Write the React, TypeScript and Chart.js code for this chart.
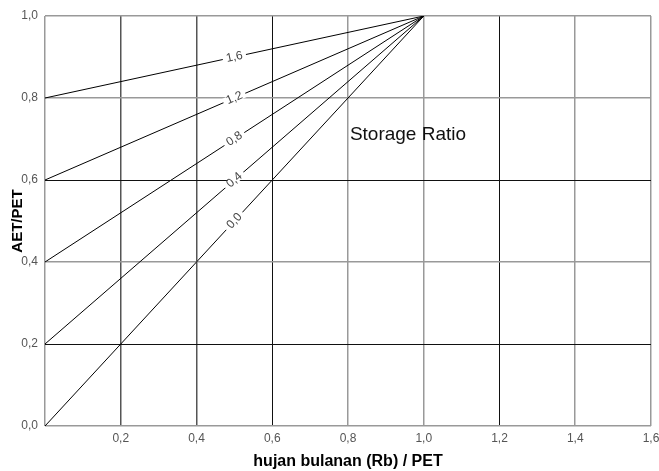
import React, { useEffect, useRef } from "react";
import { Chart, registerables } from "chart.js";

Chart.register(...registerables);

// Storage ratio curves: each runs from (0, start) to (1, 1)
const storageRatioLabels = ["1,6", "1,2", "0,8", "0,4", "0,0"];
const startAET = [0.8, 0.6, 0.4, 0.2, 0.0];
const endRb = 1.0;
const endAET = 1.0;
const labelRb = 0.5;

const xTicks = [0, 0.2, 0.4, 0.6, 0.8, 1.0, 1.2, 1.4, 1.6];
const yTicks = [0, 0.2, 0.4, 0.6, 0.8, 1.0];

const xTitle = "hujan bulanan (Rb) / PET";
const yTitle = "AET/PET";
const annotationText = "Storage Ratio";
const annotationX = 0.805;
const annotationY = 0.71;

const fmt = (v: number) => v.toFixed(1).replace(".", ",");
const FONT = "'Liberation Sans', Arial, sans-serif";

const xGridColor = (v: number) => {
  const r = Math.round(v * 10) / 10;
  if (r === 0.6 || r === 1.2) return "#111";
  if (r === 0.2 || r === 0.4) return "#555";
  return "#999";
};
const yGridColor = (v: number) => {
  const r = Math.round(v * 10) / 10;
  if (r === 0.2 || r === 0.6) return "#111";
  return "#999";
};
const gridWidth = (c: string) => (c === "#111" ? 1 : 1.5);

const labelPlugin = {
  id: "lineLabels",
  afterDatasetsDraw(chart: any) {
    const { ctx, scales } = chart;
    const xs = scales.x;
    const ys = scales.y;
    ctx.save();
    storageRatioLabels.forEach((lab, i) => {
      const y0 = startAET[i];
      const x1p = xs.getPixelForValue(0);
      const y1p = ys.getPixelForValue(y0);
      const x2p = xs.getPixelForValue(endRb);
      const y2p = ys.getPixelForValue(endAET);
      const ang = Math.atan2(y2p - y1p, x2p - x1p);
      const ly = y0 + (endAET - y0) * (labelRb / endRb);
      const px = xs.getPixelForValue(labelRb);
      const py = ys.getPixelForValue(ly);
      ctx.save();
      ctx.translate(px, py);
      ctx.rotate(ang);
      ctx.font = `12px ${FONT}`;
      const w = ctx.measureText(lab).width;
      ctx.fillStyle = "#fff";
      ctx.fillRect(-w / 2 - 3.5, -4, w + 7, 8);
      ctx.fillStyle = "#444";
      ctx.textAlign = "center";
      ctx.textBaseline = "middle";
      ctx.fillText(lab, 0, 0);
      ctx.restore();
    });
    ctx.font = `19px ${FONT}`;
    ctx.fillStyle = "#111";
    ctx.textAlign = "left";
    ctx.textBaseline = "middle";
    ctx.fillText(
      annotationText,
      xs.getPixelForValue(annotationX),
      ys.getPixelForValue(annotationY)
    );
    ctx.restore();
  },
};

export default function App() {
  const ref = useRef<HTMLCanvasElement | null>(null);
  useEffect(() => {
    if (!ref.current) return;
    const datasets = startAET.map((y0, i) => ({
      label: storageRatioLabels[i],
      data: [
        { x: 0, y: y0 },
        { x: endRb, y: endAET },
      ],
      borderColor: "#000",
      borderWidth: 1,
      pointRadius: 0,
      showLine: true,
      fill: false,
    }));
    const chart = new Chart(ref.current, {
      type: "scatter",
      data: { datasets },
      plugins: [labelPlugin],
      options: {
        responsive: false,
        animation: false,
        layout: { padding: { top: 16, right: 8, left: 0, bottom: 0 } },
        plugins: { legend: { display: false }, tooltip: { enabled: false } },
        scales: {
          x: {
            type: "linear",
            min: 0,
            max: 1.6,
            afterBuildTicks: (s: any) => {
              s.ticks = xTicks.map((v) => ({ value: v }));
            },
            afterFit: (s: any) => {
              s.height = 45;
              s.paddingLeft = 0;
              s.paddingRight = 0;
            },
            border: { display: false },
            grid: {
              drawTicks: false,
              color: (c: any) => xGridColor(c.tick ? c.tick.value : 0),
              lineWidth: (c: any) => gridWidth(xGridColor(c.tick ? c.tick.value : 0)),
            },
            ticks: {
              padding: 5,
              maxRotation: 0,
              autoSkip: false,
              color: "#555",
              font: { family: FONT, size: 12 },
              callback: (v: any) => (Number(v) === 0 ? "" : fmt(Number(v))),
            },
            title: {
              display: true,
              text: xTitle,
              color: "#000",
              font: { family: FONT, size: 16, weight: "bold" },
              padding: { top: 0, bottom: 0 },
            },
          },
          y: {
            type: "linear",
            min: 0,
            max: 1.0,
            afterBuildTicks: (s: any) => {
              s.ticks = yTicks.map((v) => ({ value: v }));
            },
            afterFit: (s: any) => {
              s.width = 45;
              s.paddingTop = 0;
              s.paddingBottom = 0;
            },
            border: { display: false },
            grid: {
              drawTicks: false,
              color: (c: any) => yGridColor(c.tick ? c.tick.value : 0),
              lineWidth: (c: any) => gridWidth(yGridColor(c.tick ? c.tick.value : 0)),
            },
            ticks: {
              padding: 7,
              autoSkip: false,
              color: "#555",
              font: { family: FONT, size: 12 },
              callback: (v: any) => fmt(Number(v)),
            },
            title: {
              display: true,
              text: yTitle,
              color: "#000",
              font: { family: FONT, size: 15, weight: "bold" },
              padding: { top: 8.5, bottom: 0 },
            },
          },
        },
      } as any,
    });
    return () => chart.destroy();
  }, []);
  return (
    <div style={{ position: "absolute", left: 0, top: 0, width: 659, height: 471, background: "#fff" }}>
      <canvas ref={ref} width={659} height={471} style={{ display: "block" }} />
    </div>
  );
}
